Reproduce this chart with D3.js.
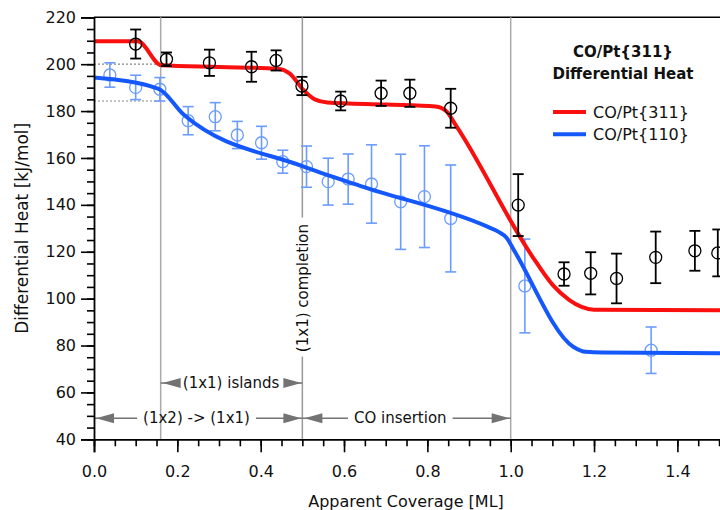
<!DOCTYPE html>
<html>
<head>
<meta charset="utf-8">
<script src="https://cdn.jsdelivr.net/npm/d3@7"></script>
<style>
    body { margin: 0; background: #fff; }
    text { font-family: "DejaVu Sans", Verdana, sans-serif; }
</style>
</head>
<body>
<div id="chart"></div>
<script>
// Fitted curves (coverage, heat)
const fit311 = [[0, 209.8], [0.105, 209.8], [0.162, 199.5], [0.30, 198.8], [0.44, 198.1], [0.47, 196],
    [0.5, 189.5], [0.53, 185], [0.56, 183.7], [0.70, 182.8], [0.82, 182], [0.845, 180], [0.87, 173.5],
    [1.05, 118.5], [1.1, 106], [1.14, 99.5], [1.17, 96.5], [1.2, 95.3], [1.6, 95]];
const fit110 = [[0, 194.3], [0.155, 189.5], [0.215, 178.5], [0.5, 156.5], [0.64, 148], [0.94, 131],
    [0.97, 128.6], [0.99, 126], [1.01, 120], [1.15, 79.5], [1.18, 77.3], [1.22, 77], [1.6, 76.6]];

// Measured points with error bars
const x311 = [0.10, 0.174, 0.277, 0.378, 0.437, 0.499, 0.592, 0.689, 0.758, 0.856, 1.018, 1.128, 1.192, 1.254, 1.348, 1.442, 1.497];
const y311 = [208.6, 202.1, 200.6, 198.9, 201.6, 190.7, 184.3, 187.6, 187.6, 181.2, 139.9, 110.5, 110.8, 108.6, 117.6, 120.4, 119.5];
const e311 = [6.2, 2.9, 5.6, 6.4, 4.3, 3.9, 4, 5.4, 5.8, 8.3, 13.2, 5, 9, 10.6, 11, 8.5, 10];

const x110 = [0.038, 0.1, 0.158, 0.226, 0.291, 0.344, 0.402, 0.453, 0.51, 0.562, 0.61, 0.666, 0.736, 0.793, 0.856, 1.034, 1.337];
const y110 = [195.4, 190.1, 189.3, 175.9, 177.6, 169.8, 166.5, 158.4, 156.3, 149.9, 151, 148.9, 141.3, 143.5, 134.2, 105.4, 78];
const e110 = [5.2, 5.2, 5, 6, 6, 5.8, 7, 4.9, 8.8, 10, 10.7, 16.7, 20.3, 21.7, 22.8, 20, 9.9];

const seriesNames = ["CO/Pt{311}", "CO/Pt{110}"];
const xTickValues = [0, 0.2, 0.4, 0.6, 0.8, 1.0, 1.2, 1.4];
const yTickValues = [40, 60, 80, 100, 120, 140, 160, 180, 200, 220];

// phase boundaries and reference levels
const phaseLines = [0.16, 0.5, 1.0];
const refLevels = [200, 184.3];
const arrows = [
    { label: "(1x2) -> (1x1)", x0: 0, x1: 0.5, y: 49, tx: 0.246 },
    { label: "(1x1) islands", x0: 0.16, x1: 0.5, y: 64, tx: 0.329 },
    { label: "CO insertion", x0: 0.5, x1: 1.0, y: 49, tx: 0.735 }
];
const completionLabel = { label: "(1x1) completion", x: 0.5, y: 104.5 };

// Dimensions
const W = 720, H = 510;
const margin = { top: 17.3, left: 94 };
const width = 1.6 * 416.7;
const height = 422;

const xScale = d3.scaleLinear().domain([0, 1.6]).range([0, width]);
const yScale = d3.scaleLinear().domain([40, 220]).range([height, 0]);

const red = "#fa0f0f", blue = "#1457fa", lightBlue = "#6b9cff", gray = "#737373";

const root = d3.select("#chart").append("svg")
    .attr("width", W)
    .attr("height", H);

const svg = root.append("g")
    .attr("transform", "translate(" + margin.left + "," + margin.top + ")");

// top border
svg.append("line")
    .attr("x1", 0).attr("x2", width)
    .attr("y1", 0).attr("y2", 0)
    .attr("stroke", "#000").attr("stroke-width", 1.6);

// phase boundaries
const compLen = 133;
phaseLines.forEach(v => {
    const px = xScale(v);
    if (v === completionLabel.x) {
        const cy = yScale(completionLabel.y);
        svg.append("line").attr("x1", px).attr("x2", px).attr("y1", 0).attr("y2", cy - compLen / 2 - 4)
            .attr("stroke", "#999").attr("stroke-width", 1.5);
        svg.append("line").attr("x1", px).attr("x2", px).attr("y1", cy + compLen / 2 + 2).attr("y2", height)
            .attr("stroke", "#999").attr("stroke-width", 1.5);
    } else {
        svg.append("line").attr("x1", px).attr("x2", px).attr("y1", 0).attr("y2", height)
            .attr("stroke", "#aaa").attr("stroke-width", 1.5);
    }
});

// dotted reference levels
refLevels.forEach(v => {
    svg.append("line")
        .attr("x1", 0).attr("x2", xScale(phaseLines[0]))
        .attr("y1", yScale(v)).attr("y2", yScale(v))
        .attr("stroke", "#888").attr("stroke-width", 1.2)
        .attr("stroke-dasharray", "2,2");
});

// completion label
svg.append("text")
    .attr("transform", "translate(" + xScale(completionLabel.x) + "," + yScale(completionLabel.y) + ") rotate(-90)")
    .attr("text-anchor", "middle")
    .attr("dy", "0.36em")
    .attr("fill", "#111")
    .style("font-size", "15px")
    .text(completionLabel.label);

// arrows
function head(px, py, dir) {
    const L = 18, h = 5;
    return `M${px},${py}L${px - dir * L},${py - h}L${px - dir * L},${py + h}Z`;
}
arrows.forEach(a => {
    const py = yScale(a.y);
    const t = svg.append("text")
        .attr("x", xScale(a.tx)).attr("y", py)
        .attr("dy", "0.35em")
        .attr("text-anchor", "middle")
        .attr("fill", "#111")
        .style("font-size", "15px")
        .text(a.label);
    const w = t.node().getComputedTextLength();
    const l = xScale(a.tx) - w / 2 - 6, r = xScale(a.tx) + w / 2 + 6;
    svg.append("line").attr("x1", xScale(a.x0)).attr("x2", l).attr("y1", py).attr("y2", py)
        .attr("stroke", gray).attr("stroke-width", 1.5);
    svg.append("line").attr("x1", r).attr("x2", xScale(a.x1)).attr("y1", py).attr("y2", py)
        .attr("stroke", gray).attr("stroke-width", 1.5);
    svg.append("path").attr("d", head(xScale(a.x0) + 2, py, -1)).attr("fill", gray);
    svg.append("path").attr("d", head(xScale(a.x1) - 1, py, 1)).attr("fill", gray);
});

// Line generator
const line = d3.line()
    .x(d => xScale(d[0]))
    .y(d => yScale(d[1]))
    .curve(d3.curveMonotoneX);

// error bars + circles
function drawPoints(xs, ys, es, color, sw) {
    const pts = xs.map((x, i) => ({ x: x, y: ys[i], e: es[i] }));
    const g = svg.append("g").attr("stroke", color).attr("fill", "none");
    pts.forEach(d => {
        const px = xScale(d.x);
        g.append("line").attr("x1", px).attr("x2", px)
            .attr("y1", yScale(d.y + d.e)).attr("y2", yScale(d.y - d.e)).attr("stroke-width", sw);
        [d.y + d.e, d.y - d.e].forEach(v => {
            g.append("line").attr("x1", px - 5.5).attr("x2", px + 5.5)
                .attr("y1", yScale(v)).attr("y2", yScale(v)).attr("stroke-width", sw);
        });
        g.append("circle").attr("cx", px).attr("cy", yScale(d.y)).attr("r", 6)
            .attr("stroke-width", 1.3).attr("fill", "none");
    });
}
drawPoints(x110, y110, e110, lightBlue, 1.6);

svg.append("path").datum(fit311)
    .attr("fill", "none").attr("stroke", red).attr("stroke-width", 4)
    .attr("d", line);
svg.append("path").datum(fit110)
    .attr("fill", "none").attr("stroke", blue).attr("stroke-width", 4)
    .attr("d", line);

drawPoints(x311, y311, e311, "#000", 1.8);

// Axes
const fmtX = d3.format(".1f");
svg.append("g")
    .attr("transform", "translate(0," + height + ")")
    .call(d3.axisBottom(xScale).tickValues(d3.range(0, 1.601, 0.05)).tickSize(7).tickFormat(""))
    .call(g => g.select(".domain").remove());
svg.append("g")
    .attr("transform", "translate(0," + height + ")")
    .call(d3.axisBottom(xScale).tickValues(xTickValues).tickSize(13).tickPadding(13).tickFormat(fmtX));

svg.append("g")
    .call(d3.axisLeft(yScale).tickValues(d3.range(40, 221, 5)).tickSize(7).tickFormat(""))
    .call(g => g.select(".domain").remove());
svg.append("g")
    .call(d3.axisLeft(yScale).tickValues(yTickValues).tickSize(13).tickPadding(5));

svg.selectAll(".tick line").attr("stroke-width", 1.6);
svg.selectAll(".domain").attr("stroke-width", 1.8);
svg.selectAll(".tick text")
    .style("font-family", '"DejaVu Sans", Verdana, sans-serif')
    .style("font-size", "16px")
    .attr("fill", "#111");

// axis titles
root.append("text")
    .attr("x", margin.left + 312).attr("y", 507)
    .attr("text-anchor", "middle")
    .attr("fill", "#111")
    .style("font-size", "16px")
    .text("Apparent Coverage [ML]");

root.append("text")
    .attr("transform", "translate(22," + (margin.top + height / 2) + ") rotate(-90)")
    .attr("text-anchor", "middle")
    .attr("dy", "0.35em")
    .attr("fill", "#111")
    .style("font-size", "17px")
    .text("Differential Heat [kJ/mol]");

// title and legend
const title = root.append("text")
    .attr("x", 623).attr("y", 57)
    .attr("text-anchor", "middle")
    .attr("fill", "#111")
    .style("font-size", "15px")
    .style("font-weight", "bold");
title.append("tspan").attr("x", 623).text("CO/Pt{311}");
title.append("tspan").attr("x", 623).attr("dy", 21.5).text("Differential Heat");

[red, blue].forEach((c, i) => {
    const ly = 112 + i * 22.3;
    root.append("line")
        .attr("x1", 553).attr("x2", 586)
        .attr("y1", ly).attr("y2", ly)
        .attr("stroke", c).attr("stroke-width", 4);
    root.append("text")
        .attr("x", 593).attr("y", ly)
        .attr("dy", "0.35em")
        .attr("fill", "#111")
        .style("font-size", "16px")
        .text(seriesNames[i]);
});
</script>
</body>
</html>
